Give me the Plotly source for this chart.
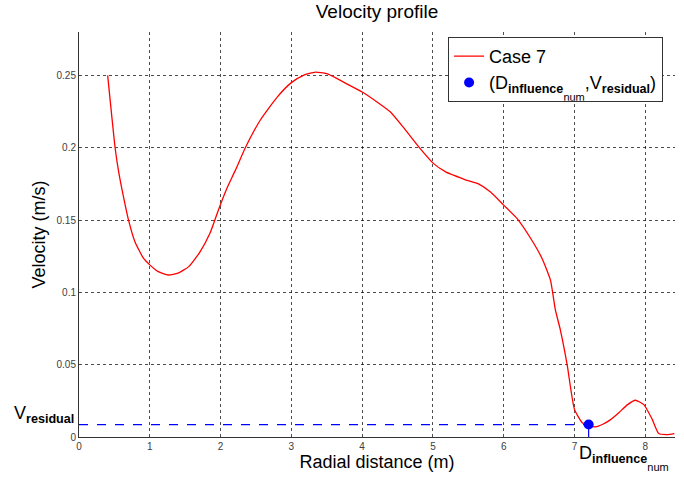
import plotly.graph_objects as go

# Velocity profile, case 7
radial_m = [0.405, 0.51, 0.556, 0.60, 0.70, 0.79, 0.91, 1.0, 1.12, 1.26, 1.40, 1.55,
            1.71, 1.85, 1.97, 2.09, 2.21, 2.35, 2.56, 2.80, 3.0, 3.17, 3.34, 3.50,
            3.79, 4.0, 4.2, 4.40, 4.60, 4.80, 5.01, 5.18, 5.29, 5.45, 5.63, 5.81,
            6.0, 6.19, 6.38, 6.54, 6.66, 6.73, 6.80, 6.90, 6.945, 7.0, 7.11, 7.20,
            7.30, 7.40, 7.51, 7.63, 7.75, 7.86, 7.98, 8.10, 8.19, 8.31, 8.41]
velocity_ms = [0.250, 0.200, 0.1845, 0.173, 0.150, 0.135, 0.1236, 0.119, 0.1143, 0.112,
               0.1133, 0.1178, 0.128, 0.1408, 0.157, 0.172, 0.1845, 0.200, 0.219, 0.235,
               0.245, 0.250, 0.2523, 0.2512, 0.244, 0.2385, 0.232, 0.2247, 0.213, 0.2006,
               0.189, 0.1833, 0.181, 0.178, 0.1753, 0.1695, 0.1603, 0.151, 0.1374, 0.1236,
               0.1086, 0.0879, 0.0741, 0.0488, 0.034, 0.019, 0.0098, 0.0078, 0.007, 0.0088,
               0.012, 0.017, 0.0224, 0.0254, 0.0224, 0.012, 0.0024, 0.0017, 0.0024]

# Influence distance and residual velocity
d_influence = 7.2
v_residual = 0.0086

x_ticks = [0, 1, 2, 3, 4, 5, 6, 7, 8]
y_ticks = [0, 0.05, 0.1, 0.15, 0.2, 0.25]
y_tick_text = ["0", "0.05", "0.1", "0.15", "0.2", "0.25"]

FONT = "Liberation Sans, Arial, sans-serif"

# second-level subscript: shifted further down than the first one
D_LABEL = ('D<sub><b>influence</b>'
           '<span style="font-size:11px;baseline-shift:-8px">num</span></sub>')
V_LABEL = "V<sub><b>residual</b></sub>"

fig = go.Figure()

fig.add_trace(go.Scatter(
    x=[0, d_influence], y=[v_residual, v_residual], mode="lines",
    line=dict(color="#0000ff", width=1.2, dash="dash"), showlegend=False, hoverinfo="skip"))
fig.add_trace(go.Scatter(
    x=[d_influence, d_influence], y=[0, v_residual], mode="lines",
    line=dict(color="#0000ff", width=1.2, dash="dash"), showlegend=False, hoverinfo="skip"))

fig.add_trace(go.Scatter(
    x=radial_m, y=velocity_ms, mode="lines", name="Case 7",
    line=dict(color="#ff0000", width=1.3, shape="spline", smoothing=0.5)))

fig.add_trace(go.Scatter(
    x=[d_influence], y=[v_residual], mode="markers",
    name="(" + D_LABEL + "," + V_LABEL + ")",
    marker=dict(color="#0000ff", size=10)))

fig.add_annotation(
    text=V_LABEL, xref="x", yref="y", x=0, y=v_residual,
    xanchor="right", yanchor="middle", xshift=-3, yshift=10, showarrow=False,
    font=dict(family=FONT, size=18, color="#000000"))
fig.add_annotation(
    text=D_LABEL, xref="x", yref="y", x=d_influence, y=0,
    xanchor="left", yanchor="top", xshift=-12, yshift=-4, showarrow=False,
    font=dict(family=FONT, size=18, color="#000000"))

grid_style = dict(showgrid=True, gridcolor="rgba(0,0,0,0.7)", gridwidth=1, griddash="dot")

fig.update_layout(
    width=684, height=479,
    margin=dict(l=79, r=9, t=32, b=42),
    paper_bgcolor="white", plot_bgcolor="white",
    title=dict(text="Velocity profile", xref="paper", x=0.5, xanchor="center",
               y=0.99, yanchor="top",
               font=dict(family=FONT, size=19, color="#000000")),
    font=dict(family=FONT, color="#000000"),
    legend=dict(x=0.98, y=0.988, xanchor="right", yanchor="top",
                bgcolor="white", bordercolor="#333333", borderwidth=1,
                font=dict(family=FONT, size=18, color="#000000"),
                tracegroupgap=0),
    showlegend=True,
)

fig.update_xaxes(
    range=[0, 8.42], tickvals=x_ticks, ticktext=[str(t) for t in x_ticks],
    showline=True, linecolor="#333333", linewidth=1, zeroline=False,
    ticks="", tickfont=dict(family=FONT, size=10, color="#404040"),
    title=dict(text="Radial distance (m)", font=dict(family=FONT, size=18), standoff=2),
    **grid_style)
fig.update_yaxes(
    range=[0, 0.28], tickvals=y_ticks, ticktext=y_tick_text,
    showline=True, linecolor="#333333", linewidth=1, zeroline=False,
    ticks="", tickfont=dict(family=FONT, size=10, color="#404040"),
    title=dict(text="Velocity (m/s)", font=dict(family=FONT, size=18), standoff=6),
    **grid_style)

fig.write_html("out.html")
